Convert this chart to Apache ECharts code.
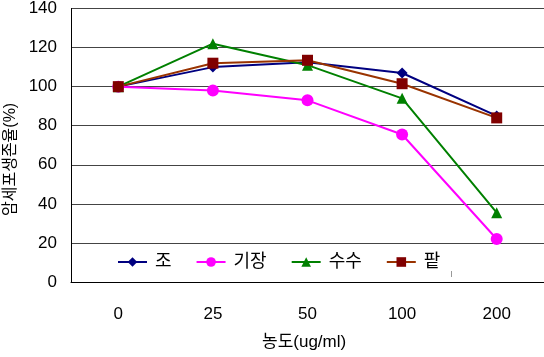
<!DOCTYPE html>
<html><head><meta charset="utf-8">
<script src="https://cdn.jsdelivr.net/npm/echarts@6/dist/echarts.min.js"></script>
<style>html,body{margin:0;padding:0;background:#fff}#c{width:544px;height:357px}</style>
</head><body><div id="c"></div>
<script>
const categories = ['0', '25', '50', '100', '200'];
const seriesNames = ['조', '기장', '수수', '팥'];
const jo = [100, 110, 112.5, 107, 85];
const gijang = [100, 98, 93, 75.5, 22];
const susu = [100, 122, 111, 94, 35.5];
const pat = [100, 112, 113.5, 101.5, 84];
const yTicks = { min: 0, max: 140, interval: 20 };
const xName = '농도(ug/ml)';
const yName = '암세포생존율(%)';

const FONT = '"Liberation Sans", "Noto Sans CJK KR", sans-serif';
const chart = echarts.init(document.getElementById('c'));
const mk = (name, data, color, markerColor, symbol, size) => ({
  name, type: 'line', data, symbol, symbolSize: size,
  lineStyle: { color, width: 2 },
  itemStyle: { color: markerColor },
  emphasis: { disabled: true }, animation: false
});
chart.setOption({
  animation: false,
  textStyle: { fontFamily: FONT },
  grid: { left: 71, top: 7, right: -4, bottom: 75, containLabel: false },
  legend: {
    left: 117, top: 253, padding: 0, itemWidth: 29, itemHeight: 12, itemGap: 24,
    textStyle: { fontSize: 18, color: '#000', fontFamily: FONT, padding: [0, 0, 0, 3] },
    data: seriesNames
  },
  xAxis: {
    type: 'category', data: categories, boundaryGap: true,
    axisLine: { lineStyle: { color: '#000', width: 1 } },
    axisTick: { show: false },
    axisLabel: { fontSize: 17, color: '#000', margin: 24, fontFamily: FONT }
  },
  yAxis: {
    type: 'value', min: yTicks.min, max: yTicks.max, interval: yTicks.interval,
    axisLine: { show: true, lineStyle: { color: '#000', width: 1 } },
    axisTick: { show: false },
    axisLabel: { fontSize: 17, color: '#000', margin: 14, fontFamily: FONT },
    splitLine: { lineStyle: { color: '#444', width: 1.2 } }
  },
  graphic: [
    { type: 'text', left: 262, top: 334, style: { text: xName, fill: '#000', font: '17px ' + FONT } },
    { type: 'text', x: 3, y: 216, rotation: Math.PI / 2, style: { text: yName, fill: '#000', font: '16px ' + FONT } },
    { type: 'line', shape: { x1: 451.5, y1: 271, x2: 451.5, y2: 277 }, style: { stroke: '#999', lineWidth: 1 } }
  ],
  series: [
    mk(seriesNames[0], jo, '#000080', '#000080', 'diamond', 11),
    mk(seriesNames[1], gijang, '#ff00ff', '#ff00ff', 'circle', 12),
    mk(seriesNames[2], susu, '#008000', '#008000', 'triangle', 11),
    mk(seriesNames[3], pat, '#993300', '#800000', 'rect', 11)
  ]
});
</script></body></html>
